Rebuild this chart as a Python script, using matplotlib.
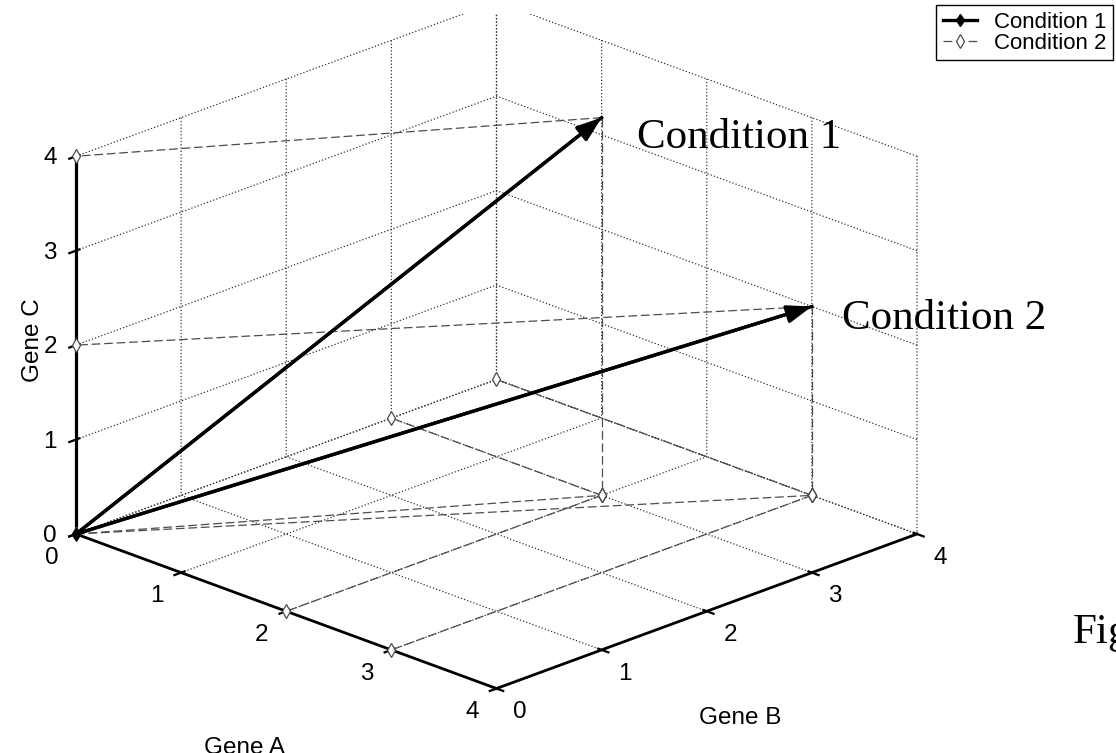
import numpy as np
import matplotlib
matplotlib.use('Agg')
import matplotlib.pyplot as plt
from matplotlib.patches import FancyArrowPatch, Rectangle
from matplotlib.transforms import offset_copy
from mpl_toolkits.mplot3d import proj3d

# ---------------- data ----------------
axis_labels = ['Gene A', 'Gene B', 'Gene C']
tick_values = [0, 1, 2, 3, 4]
series_names = ['Condition 1', 'Condition 2']
cond1 = [2, 3, 4]   # (Gene A, Gene B, Gene C)
cond2 = [3, 4, 2]
fig_note = 'Fig'

# layout (pixel offsets of the vector labels from the vector tips)
label_offsets = [(35, -30), (30, -23)]

W, H = 1116, 753
plt.rcParams['font.family'] = ['Liberation Sans', 'DejaVu Sans']
plt.rcParams['xtick.major.width'] = 1.6
plt.rcParams['ytick.major.width'] = 1.6

fig = plt.figure(figsize=(W / 100, H / 100), dpi=100)
ax = fig.add_axes([0, 0, 1, 1], projection='3d', proj_type='ortho')
ax.set_facecolor('white')
ax.patch.set_visible(False)

lo, hi = tick_values[0], tick_values[-1]
ax.set_xlim(lo, hi, view_margin=0)
ax.set_ylim(lo, hi, view_margin=0)
ax.set_zlim(lo, hi, view_margin=0)
ax.set_xticks(tick_values)
ax.set_yticks(tick_values)
ax.set_zticks(tick_values)
ax.view_init(elev=21.56, azim=-45)
ax.set_box_aspect((1, 1, 0.683))

for axis in (ax.xaxis, ax.yaxis, ax.zaxis):
    axis.set_pane_color((1, 1, 1, 0))
    axis._axinfo['grid'].update(color='0.2', linestyle=':', linewidth=0.9)
    axis._axinfo['tick']['linewidth'] = {True: 1.6, False: 1.0}
    axis._axinfo['axisline']['linewidth'] = 2.0
    axis._axinfo['axisline']['color'] = 'k'
    axis.line.set_linewidth(2.0)
    axis.line.set_color('k')
    axis.set_tick_params(labelsize=17.5, colors='k', pad=2)

ax.grid(True)


def shift_ticklabels(axis, dx, dy):
    orig = axis.get_major_ticks

    def get_major_ticks(numticks=None):
        ticks = orig(numticks)
        tr = offset_copy(ax.transData, fig=fig, x=dx, y=dy, units='dots')
        for t in ticks:
            t.label1.set_transform(tr)
            t.label2.set_transform(tr)
        return ticks
    axis.get_major_ticks = get_major_ticks


shift_ticklabels(ax.xaxis, -12, 3)
shift_ticklabels(ax.yaxis, 11, 3)
shift_ticklabels(ax.zaxis, -1, 9)


class Arrow3D(FancyArrowPatch):
    def __init__(self, xs, ys, zs, *args, **kwargs):
        super().__init__((0, 0), (0, 0), *args, **kwargs)
        self._verts3d = xs, ys, zs

    def do_3d_projection(self, renderer=None):
        xs3d, ys3d, zs3d = self._verts3d
        xs, ys, zs = proj3d.proj_transform(np.asarray(xs3d, float), np.asarray(ys3d, float),
                                           np.asarray(zs3d, float), self.axes.M)
        self.set_positions((xs[0], ys[0]), (xs[1], ys[1]))
        return np.min(zs)


proj_style = dict(color='0.3', lw=0.9, ls=(0, (7, 3)), marker='d', ms=7,
                  mfc='white', mec='0.3', mew=0.9)
vec_style = dict(color='k', lw=2.4, marker='d', ms=6, mfc='k', mec='k')

proj_handle = None
vec_handle = None
for k, v in enumerate([cond1, cond2]):
    a, b, c = v
    segs = [
        (([a, 0], [b, 0], [c, c]), [1]),      # tip -> Gene C axis
        (([a, a], [b, b], [c, 0]), [1]),      # tip -> floor
        (([a, a], [b, 0], [0, 0]), [0, 1]),   # floor -> Gene A axis
        (([a, 0], [b, b], [0, 0]), [0, 1]),   # floor -> back wall
        (([0, a], [0, b], [0, 0]), [0, 1]),   # origin -> floor point
    ]
    for (xs, ys, zs), me in segs:
        ln, = ax.plot(xs, ys, zs, markevery=me, **proj_style)
        if proj_handle is None:
            proj_handle = ln
    ln, = ax.plot([0, a], [0, b], [0, c], markevery=[0], **vec_style)
    if vec_handle is None:
        vec_handle = ln
    arr = Arrow3D([0, a], [0, b], [0, c], arrowstyle='-|>,head_length=0.75,head_width=0.27',
                  mutation_scale=20, lw=2.4, color='k', shrinkA=0, shrinkB=0)
    ax.add_artist(arr)
    ox, oy = label_offsets[k]
    ax.text(a, b, c, series_names[k], fontsize=31, family='Liberation Serif',
            va='baseline', ha='left',
            transform=offset_copy(ax.transData, fig=fig, x=ox, y=oy, units='dots'))

ax.legend([vec_handle, proj_handle], series_names, loc='upper right',
          bbox_to_anchor=(1113 / W, 1 - 5 / H), bbox_transform=fig.transFigure,
          fontsize=16, fancybox=False, edgecolor='k', framealpha=1,
          borderpad=0.3, labelspacing=0.0, handlelength=1.55, handletextpad=0.75,
          borderaxespad=0)

fig.text(1073 / W, 1 - 643 / H, fig_note, fontsize=31, family='Liberation Serif',
         va='baseline', ha='left')

# ---- put the Gene C axis on the left-hand vertical edge ----
best = None
for pos in ('lower', 'upper', 'default'):
    try:
        ax.zaxis.set_ticks_position(pos)
    except Exception:
        continue
    fig.canvas.draw()
    xm = float(np.mean(ax.zaxis.line.get_xdata()))
    if best is None or xm < best[0]:
        best = (xm, pos)
if best is not None:
    ax.zaxis.set_ticks_position(best[1])
ax.zaxis.line.set_linewidth(2.3)

# ---- fit the projected box to the target frame ----
fig.canvas.draw()


def axfrac(p):
    xs, ys, _ = proj3d.proj_transform(np.array([p[0]], float), np.array([p[1]], float),
                                      np.array([p[2]], float), ax.get_proj())
    disp = ax.transData.transform(np.column_stack([xs, ys]))
    return ax.transAxes.inverted().transform(disp)[0]


uo = axfrac((lo, lo, lo))
ur = axfrac((hi, hi, lo))
tgt_o = (76, H - 534)
tgt_r = (917, H - 533)
L = (tgt_r[0] - tgt_o[0]) / (ur[0] - uo[0])
x0 = tgt_o[0] - L * uo[0]
y0 = tgt_o[1] - L * uo[1]
ax.set_position([x0 / W, y0 / H, L / W, L / H])

# the reference frame is cropped just above the top of the back edge
fig.patches.append(Rectangle((300, H - 14), 420, 14, transform=None,
                             facecolor='white', edgecolor='none', zorder=5))

fig.text(33 / W, 1 - 340 / H, axis_labels[2], rotation=90, fontsize=17.5,
         ha='center', va='center')
fig.text(740 / W, 1 - 718 / H, axis_labels[1], fontsize=17.5, ha='center', va='center')
fig.text(245 / W, 1 - 737 / H, axis_labels[0], fontsize=17.5, ha='center', va='top')

fig.savefig('out.png', dpi=100)
